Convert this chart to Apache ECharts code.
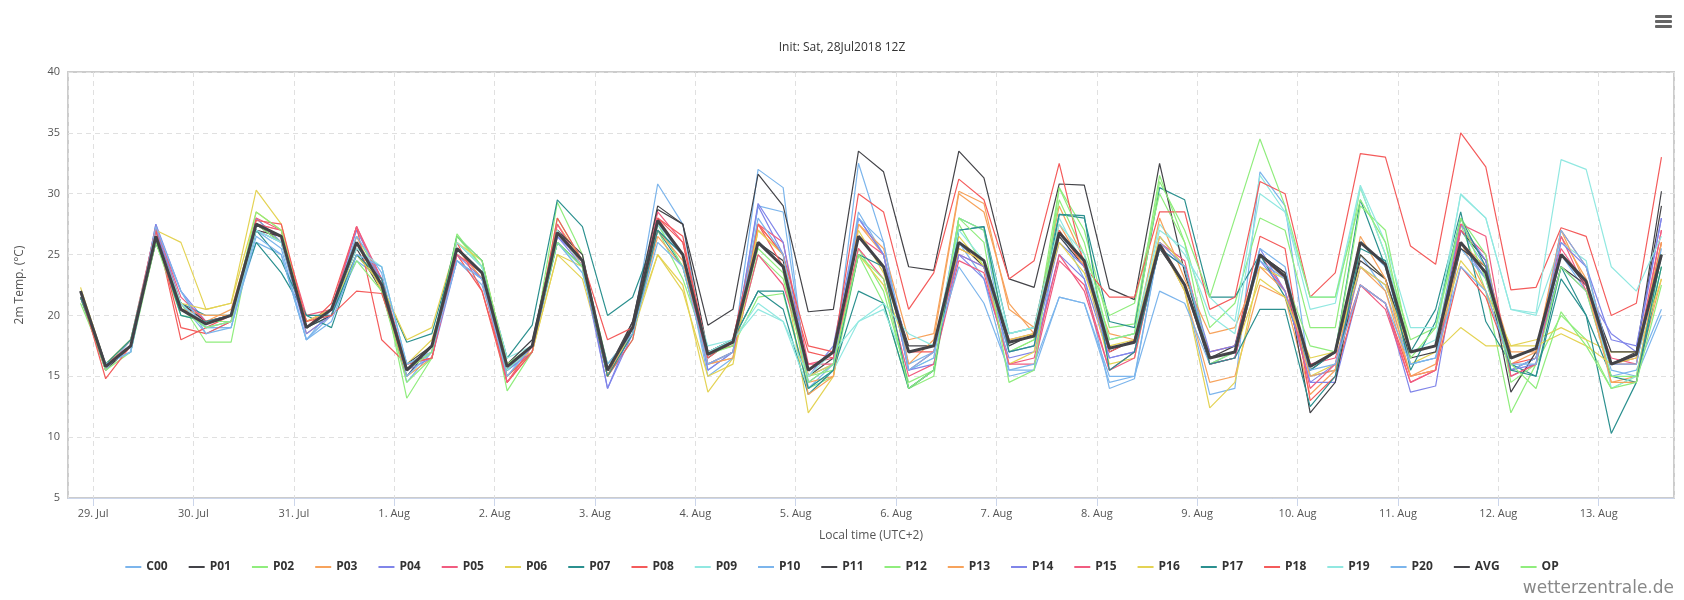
<!DOCTYPE html>
<html><head><meta charset="utf-8">
<script src="https://cdn.jsdelivr.net/npm/echarts@6/dist/echarts.min.js"></script>
<style>html,body{margin:0;padding:0;background:#fff}#c{width:1684px;height:600px}</style>
</head><body><div id="c"></div>
<script>
const names=["C00","P01","P02","P03","P04","P05","P06","P07","P08","P09","P10","P11","P12","P13","P14","P15","P16","P17","P18","P19","P20","AVG","OP"];
const colors=["#7cb5ec","#434348","#90ed7d","#f7a35c","#8085e9","#f15c80","#e4d354","#2b908f","#f45b5b","#91e8e1","#7cb5ec","#434348","#90ed7d","#f7a35c","#8085e9","#f15c80","#e4d354","#2b908f","#f45b5b","#91e8e1","#7cb5ec","#434348","#90ed7d"];
const C00=[22,16,17,27.5,21,18.5,19.5,26,25,18,20,24.5,23,14.5,17,24.5,22.5,15.5,17,26,24,15,19,30.8,27.5,15.5,17,32,30.5,14,16,32.5,26,16,17,26,23,15,15.5,27,23,14,14.8,26,22,13.5,14,31.8,29,15,15.5,25,22,16,16.5,27,24,15,16,25,22,15,15.5,20.5];
const P01=[21.5,15.5,17.5,26,21,19.5,20,27.5,26,19,20.5,25.5,22,15,17.5,25.5,23.5,15.5,17.5,27,24.5,15,19.5,28.7,27.5,17,18,26,24.5,15,16.5,26.5,24,17.5,17.5,26,24,17.5,18.5,26.5,24,17,18,25.5,22.5,16,16.5,25,23.5,15.5,17,24.5,23,17,17.5,27,24.5,15.5,16.5,24,22.5,16,17,29];
const P02=[21,16,18,26,21,17.8,17.8,28,26,19,20.5,26.5,23,13.2,16.5,26.7,24,13.8,17,29.3,25,15,18,27,23,17,17.5,21.5,21.8,14,15,25,21,14,15,27.5,24,17,18,30.5,27,19,19.3,31.5,26,19,21,28,27,19,19,30.5,25,18,19,27.5,22,12,16,20,18,14,15,24];
const P03=[22,16,17.5,27,20.5,19.5,20.5,27.5,27,18.5,20,26.5,22,15,16.5,25.5,23,14.5,17.5,27.5,24.5,15,18.5,26.5,24,16,16.5,27,25,14.5,15,27.5,25,16,18,30,28.5,21,18.5,29,24.5,18,18.5,26,22,14.5,15,22.5,21.5,13.5,15.5,24,22,15,16,26,22,16,17,26.5,23,14.5,15,23];
const P04=[22,16,17,27.5,22,19.5,19.5,28,26,19,20.5,27,23,15.5,16.5,24.5,23,15.5,17.5,26.5,24.5,14,18.5,27,25,15.5,17,29,25,15,17.5,28,25,17,17.5,25,23,16.5,17,25,23,16.5,17,26.5,24,16,16.5,25.5,22,14.5,14.5,22.5,21,13.7,14.2,26,23,15.5,16.5,24,22,18.5,17,28];
const P05=[22,16,17.5,27,21,19.5,19.5,27.5,27,20,20.5,27.3,22.5,16,16.5,25.5,23,14.5,17,27.5,24,15.5,19,28.5,26,17,18,27.5,26,16,16,26.5,25,15.5,17,25,24,16,16.5,25,22,15.5,17,26,24,16.5,17,25,22,16,16.5,22.5,20.5,14.5,15.5,27,25,15,16,26.5,22,16.5,16,27];
const P06=[22.3,16,18,27,26,20.5,21,30.3,27.5,19,20.5,26,22,16,18,25,23.5,15,17,25,23,15.5,19,25,22.5,13.7,16.5,26,24,12,15,27,23.5,17,17.5,26.5,24,16,17,27,24,16,16.5,26,22,12.4,14.5,24,23,15,16,25,23,16,17,19,17.5,17.5,18,19,18,17,17,26];
const P07=[21.5,16,17.5,26,21,20,20,26,23.5,20,19,25,22.5,17.8,18.5,26,24,16.5,19.2,29.5,27.3,20,21.5,27,24,16.5,18,22,20.5,13.5,15.5,22,21,14,15.5,27,27.3,18.5,19,28.3,28,19.5,19,30.5,29.5,21.5,21.5,25,21.5,15.5,17,29.5,24,17,20.5,28.5,19.5,16,15,24,20,15,14.5,24];
const P08=[22,15.5,18,27.2,18,19,20,27,26.5,19,21,27.3,18,16,17,25,22,14.5,17,27,24,15,18,28,26,17,17.5,27.5,24,17,16.5,26.5,24,17,17,25.5,24.5,18,18.5,27,24,17,18,26,22.5,17,17.5,26.5,25.5,13,15,22.5,21,15,15.5,24,21.5,16,16.5,27,24,16,16,26];
const P09=[22,16,17,26.5,20.5,19,19,27,26,19,20,25,24,16,17,26,24,16.5,17.5,26,23.5,15.5,19,27.5,24,17.5,18,21,19.5,14,15.5,19.5,20.5,15.5,16.5,28,27,18.5,19,28,24,18,18.5,27.5,25,21.5,19.5,31.5,28.5,20.5,21,30.5,25,17,18,30,28,20.5,20,26,24.5,14,15,25];
const P10=[22,15.5,18,27,22,19,19,27,25.5,18,20.5,26.5,23.5,15,17,24.5,23,15,17.5,26,24,16,18.5,27,25,15,16.5,29,28.5,14.5,16,28.5,25,15.5,16.5,28,27,15.5,15.5,21.5,21,15,15,22,21,16,17,25.5,24,15,15.5,26,24,16,16.5,25.5,23,15.5,16.5,25,22.5,15.5,15,20];
const P11=[22,16,17.5,26.5,21,19.5,20,27,26.5,19,20,26,22.5,16,17.5,25.5,23.5,16,18,27,25,15.5,19.5,29,27.5,19.2,20.5,31.6,29,20.3,20.5,33.5,31.8,24,23.7,33.5,31.3,23,22.3,30.8,30.7,22.2,21.3,32.5,23.5,16.5,17.5,25,23.5,12,14.5,25,23,16.5,17,25.5,24,13.7,17,25,22.5,17,17,30.2];
const P12=[21.5,15.5,17,26,20,19.5,19.5,27.5,26,19.5,20.5,24.5,22,14.5,16.5,26.5,24,15,17,28,24.5,16,18.5,27.5,24,16,17,25,23,15,15.5,25.5,22,14.5,15.5,28,27,17,18,29.5,25,20,21,30,26,16,17,25,23,17.5,17,29,27,17,17.5,28,25,14.5,16,24,22,15,15,25];
const P13=[22,16,17.5,26.5,20.5,20,20,27.5,26.5,19.5,20.5,26,23,15.5,17,25.5,23,15.5,17.5,27,24,15,19,27,24.5,16,16.5,27.5,25,13.5,15,27.5,25.5,18,18.5,30.2,29.2,20.5,19,27.5,24,18.5,18,28,23,18.5,19,24,22,15,15.5,26.5,23,15,15.5,26,24,17,17,27,22.5,14.5,14.5,26];
const P14=[22,16,17,27,21,19,19.5,27,26,18.5,20,26,23,15.5,17,25,23,15.5,17,26.5,24,14,19,27.5,25,16,17,29.2,26,15,16,28,25,15.5,16,25,24,17,17.5,26,24,16.5,17,25.5,24,17,17.5,24.5,22,14.5,16,24,22.5,17,17.5,27.5,24.5,15.5,16,26,24,18,17.5,28];
const P15=[21.5,16,17.5,27.3,21.5,19.5,20,28,27,19.5,20.5,27.3,23,16,16.5,25,23.5,14.5,17.5,27,24,15.5,19,28,25,16,17,25,22.5,16,16.5,25.5,23,15,16,24.5,23.5,16,16,24.5,22.5,15.5,16.5,26,24.5,16,16.5,25,23,14,16,22.5,21,14.5,15.5,27.5,26.5,15,16,25.5,22.5,16,16.5,27];
const P16=[22,16,18,26.5,21,20.5,21,28.5,27,19.5,20.5,25,22.5,18,19,26,24.5,16,17,25,24,15.5,18.5,25,22,15,16,27,25,15,16,25,22.5,17,17.5,25.5,24.5,18,18.5,26,23.5,17.5,18,26.5,24,16.5,17,23,21.5,16.5,17,24,22.5,17,17.5,24.5,22,17.5,17.5,18.5,17.5,16,16.5,23];
const P17=[21.5,16,18,26.5,20,19.5,20,27,24.5,20,20,25,23,15.5,17.5,26.5,24.5,15.5,17.5,26,24,15,18.5,27,25,17,18,22,22,14,15.5,25,24,14,15.5,27,27.3,17,17.5,28.3,28.2,15.5,17,25.5,24,16,16.5,20.5,20.5,12.5,15,25.5,24.5,15.5,19.5,28,24,15.5,15,23,20,10.3,14.5,25];
const P18=[22,14.8,17.5,27,19,18.5,19.5,27.8,27.5,19.5,20,22,21.8,16,16.5,26,22,15,17,28,24.5,18,19,28,26.5,16.5,18,27.5,25,17.5,17,30,28.5,20.5,23.5,31.2,29.5,23,24.5,32.5,24,21.5,21.5,28.5,28.5,20.5,21.5,31,30,21.5,23.5,33.3,33,25.7,24.2,35,32.2,22.1,22.3,27.2,26.5,20,21,33];
const P19=[22,16,17,26.5,21,19,19.5,27,26,19,20.5,25.5,24,16,17,26,24,15.5,17.5,27,24,15.5,19,27.5,25,17,18,20.5,19.5,15,17,19.5,21,18.5,17.5,27,24.5,18.5,19,27.5,25,18,18.5,27,25.5,20,18.5,30,28.5,21.5,21.5,30.7,26,19,19,29.9,28,20.5,20.2,32.8,32,24,22,26.5];
const P20=[22,16,17,27.3,22,18.5,19,26.5,25,18,19.5,25,24,16,17,24.5,23,15,17.5,26,23.5,16,18.5,26,24,16,17,28,25,14.5,16,28,26,15.5,17,24,21,15.5,16,21.5,21,14.5,15,26,24,16.5,17,24.5,23,15.5,16,22.5,21,16,16.5,24,22,16,16,27,24,16,16,25.5];
const AVG=[22,15.8,17.5,26.5,20.5,19.3,20,27.5,26.5,19,20.5,26,22.5,15.5,17.5,25.5,23.5,15.8,17.5,26.8,24.5,15.5,19,27.8,25,16.8,17.8,26,24,15.5,17,26.5,24,17,17.5,26,24.5,17.8,18.3,26.8,24.5,17.3,17.8,25.8,22.5,16.5,17,25,23.2,15.8,17,26,24.2,17,17.5,26,23.5,16.5,17.3,25,22.8,16,16.8,25];
const OP=[22,15.8,17.5,26.5,20.5,19,19.5,28.5,27,19,20.5,26,22.5,15.5,17,26.5,24.5,16,17.5,26,24,15.5,19,27.8,25,16.8,17.5,25.5,23.5,14.5,16,25,23,14,15.5,28,26,14.5,15.5,30.5,26,18,18.5,31,27,21.5,28,34.5,29,21.5,21.5,29.5,26,16.5,19,28,23,16,14,20.3,17.5,14,14.5,22.5];
const all=[C00,P01,P02,P03,P04,P05,P06,P07,P08,P09,P10,P11,P12,P13,P14,P15,P16,P17,P18,P19,P20,AVG,OP];
const yTicks=[5,40,5];
const start=Date.UTC(2018,6,28,21), step=6*3600e3, day=86400e3;
const months=["Jan","Feb","Mar","Apr","May","Jun","Jul","Aug","Sep","Oct","Nov","Dec"];
const series=names.map((n,k)=>({name:n,type:'line',showSymbol:false,symbol:'none',
  data:all[k].map((v,i)=>[start+i*step,v]),
  lineStyle:{width:n==='AVG'?3:1.2,color:colors[k]},itemStyle:{color:colors[k]},
  z:n==='AVG'?10:2,emphasis:{disabled:true}}));
const chart=echarts.init(document.getElementById('c'));
chart.setOption({
  useUTC:true,animation:false,
  title:{text:'Init: Sat, 28Jul2018 12Z',left:'center',top:37,textStyle:{fontSize:12,fontWeight:'normal',color:'#333',fontFamily:'Open Sans'}},
  grid:{left:68,right:10,top:72,bottom:102},
  xAxis:{type:'time',min:Date.UTC(2018,6,28,18),max:Date.UTC(2018,7,13,18),minInterval:day,maxInterval:day,
    name:'Local time (UTC+2)',nameLocation:'middle',nameGap:32,nameTextStyle:{fontSize:12,color:'#555',fontFamily:'Open Sans'},
    axisLine:{lineStyle:{color:'#ccd6eb'}},axisTick:{show:true,length:8,lineStyle:{color:'#ccd6eb'}},
    axisLabel:{fontSize:11,color:'#555',fontFamily:'Open Sans',hideOverlap:false,margin:10,
      formatter:v=>{const d=new Date(v);return d.getUTCDate()+'. '+months[d.getUTCMonth()];}},
    splitLine:{show:true,lineStyle:{color:'#e0e0e0',type:[5,4]}}},
  yAxis:{type:'value',min:yTicks[0],max:yTicks[1],interval:yTicks[2],
    name:'2m Temp. (°C)',nameLocation:'middle',nameGap:42,nameTextStyle:{fontSize:12,color:'#555',fontFamily:'Open Sans'},
    axisLabel:{fontSize:11,color:'#555',fontFamily:'Open Sans'},
    axisLine:{show:false},splitLine:{lineStyle:{color:'#e0e0e0',type:[5,4]}}},
  legend:{bottom:22,left:'center',icon:'rect',itemWidth:16,itemHeight:2,itemGap:21,
    textStyle:{fontSize:12,fontWeight:'bold',color:'#333',fontFamily:'Open Sans'},data:names},
  graphic:[
    {type:'rect',shape:{x:68,y:72,width:1606,height:426},style:{fill:'none',stroke:'#cccccc',lineWidth:2},silent:true,z:0},
    {type:'text',right:10,bottom:3,style:{text:'wetterzentrale.de',fontSize:17,fill:'#888',fontFamily:'DejaVu Sans'}},
    {type:'rect',shape:{x:1655,y:15,width:17,height:3,r:1},style:{fill:'#666'}},
    {type:'rect',shape:{x:1655,y:20,width:17,height:3,r:1},style:{fill:'#666'}},
    {type:'rect',shape:{x:1655,y:25,width:17,height:3,r:1},style:{fill:'#666'}}
  ],
  series
});
</script></body></html>
